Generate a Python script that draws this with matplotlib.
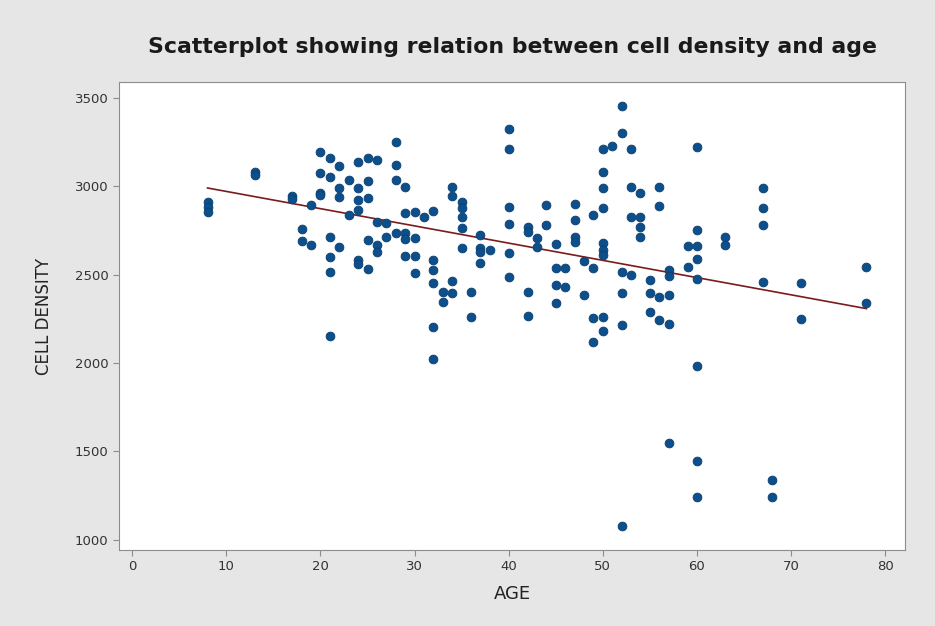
import matplotlib.pyplot as plt
import numpy as np

# ages and the cell densities, grouped by age
ages_by_group = [8, 13, 17, 18, 19, 20, 21, 22, 23, 24, 25, 26, 27, 28, 29, 30, 31, 32,
                 33, 34, 35, 36, 37, 38, 40, 42, 43, 44, 45, 46, 47, 48, 49, 50, 51, 52,
                 53, 54, 55, 56, 57, 59, 60, 63, 67, 68, 71, 78]
density_by_group = [
    [2910, 2880, 2855],
    [3080, 3065],
    [2945, 2925],
    [2760, 2690],
    [2893, 2667],
    [3192, 3073, 2960, 2949],
    [3158, 3051, 2712, 2599, 2514, 2150],
    [3113, 2989, 2938, 2655],
    [3034, 2836],
    [3136, 2989, 2921, 2864, 2582, 2560],
    [3158, 3028, 2932, 2695, 2531],
    [3147, 2797, 2667, 2627],
    [2791, 2712],
    [3249, 3119, 3034, 2734],
    [2994, 2847, 2734, 2700, 2605],
    [2855, 2706, 2605, 2508],
    [2825],
    [2859, 2582, 2525, 2452, 2203, 2023],
    [2401, 2345],
    [2994, 2945, 2463, 2395],
    [2910, 2876, 2825, 2763, 2650],
    [2401, 2260],
    [2723, 2650, 2627, 2565],
    [2638],
    [3320, 3209, 2881, 2788, 2621, 2486],
    [2768, 2740, 2401, 2266],
    [2706, 2655],
    [2893, 2780],
    [2672, 2537, 2441, 2339],
    [2537, 2429],
    [2898, 2808, 2712, 2684],
    [2575, 2387],
    [2836, 2537, 2255, 2120],
    [3209, 3079, 2989, 2876, 2678, 2638, 2610, 2260, 2180],
    [3226],
    [3452, 3300, 2514, 2395, 2215, 1079],
    [3209, 2994, 2825, 2497],
    [2960, 2825, 2768, 2712],
    [2469, 2395, 2288],
    [2994, 2887, 2373, 2243],
    [2525, 2490, 2384, 2220, 1548],
    [2661, 2542],
    [3220, 2751, 2661, 2587, 2475, 1983, 1446, 1243],
    [2712, 2667],
    [2989, 2876, 2780, 2458],
    [1339, 1243],
    [2452, 2249],
    [2542, 2339],
]

# fitted line as shown on the chart
fit_intercept = 3067
fit_slope = -9.74
fit_ages = [8, 78]

age = np.concatenate([[a] * len(v) for a, v in zip(ages_by_group, density_by_group)])
density = np.concatenate(density_by_group)

fig = plt.figure(figsize=(9.35, 6.26), dpi=100, facecolor="#e6e6e6")
ax = fig.add_axes([0.1273, 0.1214, 0.8406, 0.7476])
ax.set_facecolor("white")

ax.scatter(age, density, s=40, marker="o", color="#0d4f8b", edgecolors="#0a3f70",
           linewidths=0.6, zorder=3)

fx = np.array(fit_ages)
ax.plot(fx, fit_intercept + fit_slope * fx, color="#7a1c1c", lw=1.2, zorder=2)

ax.set_xlim(-1.4, 82.1)
ax.set_ylim(943, 3588)
ax.set_xticks(range(0, 81, 10))
ax.set_yticks(range(1000, 3501, 500))

for s in ax.spines.values():
    s.set_color("#8c8c8c")
ax.tick_params(colors="#333333", labelsize=9.5, length=4, color="#8c8c8c")

ax.set_xlabel("AGE", fontsize=13, color="#222222", labelpad=8)
ax.set_ylabel("CELL DENSITY", fontsize=12, color="#222222", labelpad=16)
fig.text(0.548, 0.925, "Scatterplot showing relation between cell density and age",
         ha="center", va="center", fontsize=15.8, color="#1a1a1a", fontweight="semibold")

fig.savefig("out.png", dpi=100, facecolor=fig.get_facecolor())
